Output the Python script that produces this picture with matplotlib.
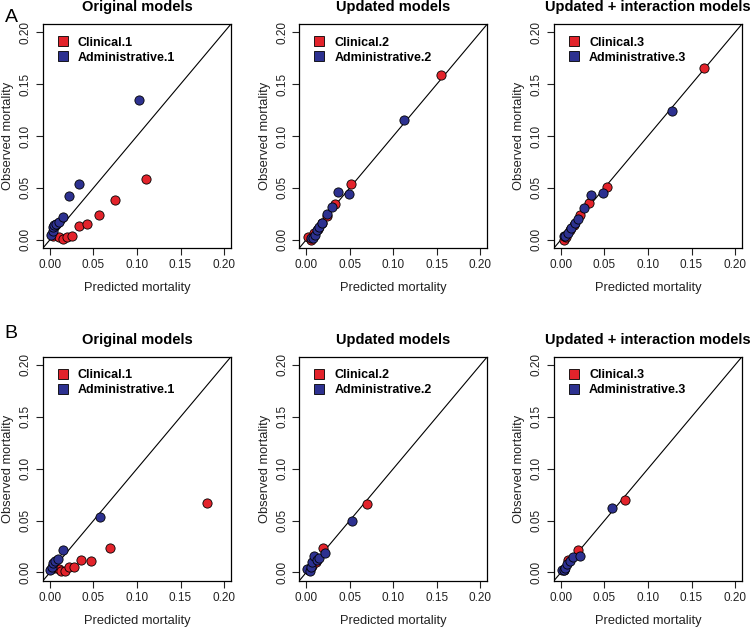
import matplotlib
matplotlib.use("Agg")
import matplotlib.pyplot as plt
from matplotlib.lines import Line2D

plt.rcParams['font.family'] = ['Liberation Sans', 'DejaVu Sans']

red = '#e3232b'
blue = '#2d3190'

titles = ["Original models", "Updated models", "Updated + interaction models"]
ticks = [0.00, 0.05, 0.10, 0.15, 0.20]
tick_labels = ["0.00", "0.05", "0.10", "0.15", "0.20"]

# row A
a1_clin_pred = [0.003, 0.010, 0.015, 0.020, 0.025, 0.033, 0.043, 0.056, 0.075, 0.110]
a1_clin_obs = [0.004, 0.003, 0.001, 0.003, 0.004, 0.013, 0.015, 0.024, 0.038, 0.059]
a1_adm_pred = [0.001, 0.003, 0.004, 0.005, 0.007, 0.010, 0.015, 0.022, 0.033, 0.102]
a1_adm_obs = [0.005, 0.008, 0.012, 0.014, 0.015, 0.017, 0.022, 0.042, 0.054, 0.135]

a2_clin_pred = [0.002, 0.005, 0.009, 0.013, 0.018, 0.024, 0.033, 0.051, 0.155]
a2_clin_obs = [0.003, 0.000, 0.006, 0.010, 0.016, 0.023, 0.034, 0.054, 0.159]
a2_adm_pred = [0.005, 0.008, 0.010, 0.012, 0.015, 0.018, 0.024, 0.029, 0.037, 0.049, 0.112]
a2_adm_obs = [0.002, 0.002, 0.005, 0.009, 0.012, 0.016, 0.025, 0.032, 0.046, 0.044, 0.115]

a3_clin_pred = [0.003, 0.006, 0.010, 0.015, 0.022, 0.032, 0.053, 0.164]
a3_clin_obs = [0.000, 0.003, 0.009, 0.014, 0.024, 0.035, 0.051, 0.166]
a3_adm_pred = [0.003, 0.005, 0.008, 0.012, 0.016, 0.020, 0.026, 0.035, 0.048, 0.128]
a3_adm_obs = [0.004, 0.004, 0.006, 0.011, 0.016, 0.020, 0.031, 0.043, 0.045, 0.124]

# row B
b1_clin_pred = [0.005, 0.010, 0.013, 0.017, 0.022, 0.028, 0.036, 0.047, 0.069, 0.180]
b1_clin_obs = [0.004, 0.003, 0.001, 0.001, 0.005, 0.005, 0.012, 0.011, 0.024, 0.067]
b1_adm_pred = [0.000, 0.002, 0.004, 0.006, 0.009, 0.015, 0.057]
b1_adm_obs = [0.002, 0.005, 0.009, 0.011, 0.013, 0.022, 0.053]

b2_clin_pred = [0.003, 0.007, 0.011, 0.019, 0.070]
b2_clin_obs = [0.002, 0.006, 0.010, 0.024, 0.066]
b2_adm_pred = [0.001, 0.004, 0.005, 0.007, 0.009, 0.012, 0.015, 0.021, 0.052]
b2_adm_obs = [0.003, 0.001, 0.005, 0.010, 0.016, 0.012, 0.014, 0.019, 0.050]

b3_clin_pred = [0.003, 0.008, 0.019, 0.074]
b3_clin_obs = [0.002, 0.012, 0.022, 0.070]
b3_adm_pred = [0.001, 0.003, 0.005, 0.007, 0.010, 0.014, 0.022, 0.059]
b3_adm_obs = [0.002, 0.002, 0.004, 0.008, 0.011, 0.015, 0.016, 0.062]

panels = [
    (a1_clin_pred, a1_clin_obs, a1_adm_pred, a1_adm_obs),
    (a2_clin_pred, a2_clin_obs, a2_adm_pred, a2_adm_obs),
    (a3_clin_pred, a3_clin_obs, a3_adm_pred, a3_adm_obs),
    (b1_clin_pred, b1_clin_obs, b1_adm_pred, b1_adm_obs),
    (b2_clin_pred, b2_clin_obs, b2_adm_pred, b2_adm_obs),
    (b3_clin_pred, b3_clin_obs, b3_adm_pred, b3_adm_obs),
]

fig = plt.figure(figsize=(7.5, 6.28), dpi=100)

lefts = [43 / 750, 299.3 / 750, 554 / 750]
bottoms = [380 / 628, 47.3 / 628]
w = 188 / 750
h = 224 / 628
lim = (-0.008, 0.208)

for i, (cp, co, ap, ao) in enumerate(panels):
    row, col = divmod(i, 3)
    ax = fig.add_axes([lefts[col], bottoms[row], w, h])
    ax.plot(lim, lim, color='black', lw=0.8, zorder=1)
    ax.scatter(cp, co, s=44, color=red, edgecolors='black', linewidths=0.6, zorder=2)
    ax.scatter(ap, ao, s=44, color=blue, edgecolors='black', linewidths=0.6, zorder=3)
    ax.set_xlim(lim)
    ax.set_ylim(lim)
    ax.set_xticks(ticks)
    ax.set_xticklabels(tick_labels)
    ax.set_yticks(ticks)
    ax.set_yticklabels(tick_labels, rotation=90, va='center')
    ax.tick_params(labelsize=8.5, length=5, width=0.8, pad=3, colors='#222222')
    for sp in ax.spines.values():
        sp.set_linewidth(0.9)
    ax.set_xlabel("Predicted mortality", fontsize=9.3, labelpad=8, color='#222222')
    ax.set_ylabel("Observed mortality", fontsize=9.3, labelpad=4, color='#222222')
    ax.set_title(titles[col], fontsize=10.5, fontweight='bold', pad=9)
    n = col + 1
    handles = [
        Line2D([], [], marker='s', ls='', markersize=7, markerfacecolor=red,
               markeredgecolor='black', markeredgewidth=0.6),
        Line2D([], [], marker='s', ls='', markersize=7, markerfacecolor=blue,
               markeredgecolor='black', markeredgewidth=0.6),
    ]
    ax.legend(handles, [f"Clinical.{n}", f"Administrative.{n}"], loc='upper left',
              frameon=False, prop={'weight': 'bold', 'size': 9}, handletextpad=0.6,
              borderaxespad=0.6, labelspacing=0.25, handlelength=1.2)

fig.text(5 / 750, 1 - 18 / 628, "A", fontsize=14, va='center')
fig.text(4 / 750, 1 - 334 / 628, "B", fontsize=14, va='center')

fig.savefig("out.png", dpi=100)
